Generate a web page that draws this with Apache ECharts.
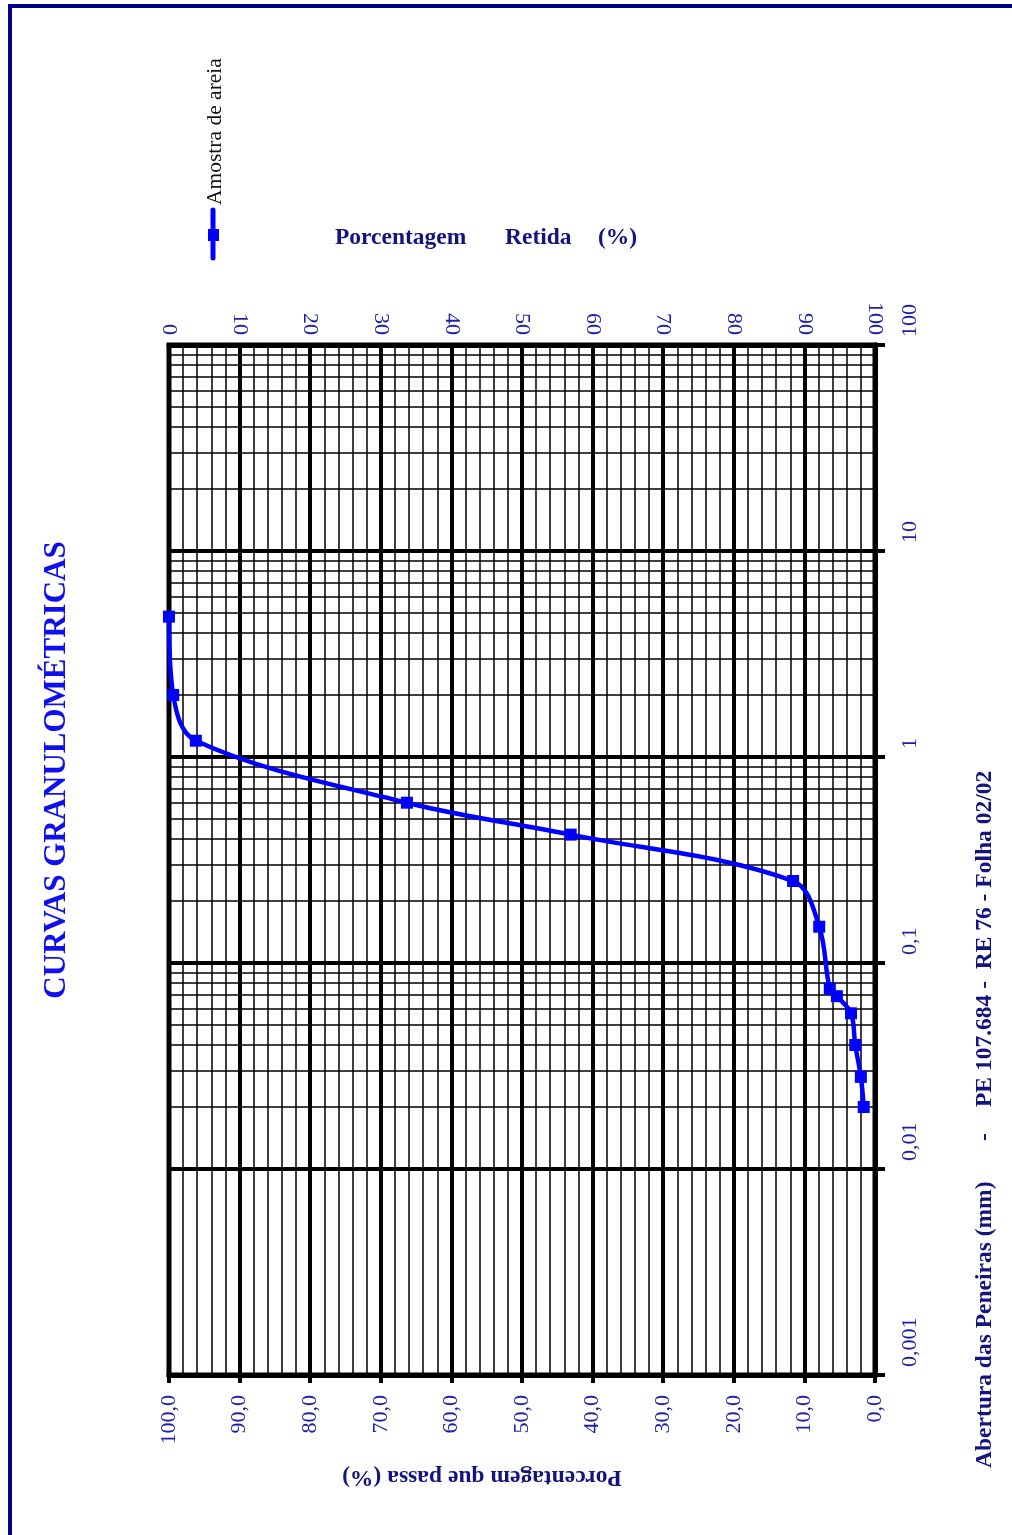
<!DOCTYPE html>
<html>
<head>
<meta charset="utf-8">
<script src="https://cdn.jsdelivr.net/npm/echarts@6/dist/echarts.min.js"></script>
<style>
  html, body { margin: 0; padding: 0; background: #fff; }
  #chart { width: 1012px; height: 1535px; }
</style>
</head>
<body>
<div id="chart"></div>
<script>
// Sieve analysis – sand sample
var sieveOpening = [4.8, 2.0, 1.2, 0.6, 0.42, 0.25, 0.15, 0.075, 0.069, 0.057, 0.040, 0.028, 0.020]; // mm
var percentPassing = [100.0, 99.4, 96.2, 66.3, 43.1, 11.6, 7.9, 6.4, 5.4, 3.4, 2.8, 2.0, 1.6];    // %
var seriesName = 'Amostra de areia';

var percentTicks = [0, 10, 20, 30, 40, 50, 60, 70, 80, 90, 100];
var openingTicks = [0.001, 0.01, 0.1, 1, 10, 100];

var SERIF = 'Liberation Serif';
var TICK_COLOR = '#1f1fa6';
var NAME_COLOR = '#14147e';
var LINE_BLUE = '#0000ff';
var NAME_FONT = 'bold 23.5px "Liberation Serif"';

function comma(s) { return String(s).replace('.', ','); }

// intermediate log-cycle lines (2..9 of each decade)
var logMinor = [];
for (var d = 0; d < openingTicks.length - 1; d++) {
  for (var m = 2; m <= 9; m++) {
    logMinor.push({ yAxis: Number((openingTicks[d] * m).toPrecision(4)) });
  }
}

var points = sieveOpening.map(function (mm, i) { return [percentPassing[i], mm]; });

var chart = echarts.init(document.getElementById('chart'), null, { renderer: 'canvas' });

chart.setOption({
  animation: false,
  backgroundColor: '#ffffff',
  grid: {
    left: 169, right: 137, top: 345, bottom: 160,
    show: true, borderColor: '#000', borderWidth: 5, backgroundColor: 'transparent'
  },
  xAxis: [
    {
      // percentage passing (bottom, decreasing to the right)
      type: 'value', position: 'bottom', inverse: true,
      min: percentTicks[0], max: percentTicks[percentTicks.length - 1], interval: 10,
      axisLine: { show: true, lineStyle: { color: '#000', width: 5 } },
      axisTick: { show: true, inside: false, length: 8, lineStyle: { color: '#000', width: 4 } },
      minorTick: { show: false, splitNumber: 5 },
      splitLine: { show: true, lineStyle: { color: '#000', width: 4 } },
      minorSplitLine: { show: true, lineStyle: { color: '#000', width: 1.5 } },
      axisLabel: {
        rotate: 90, margin: 20, align: 'right', verticalAlign: 'middle',
        color: TICK_COLOR, fontFamily: SERIF, fontSize: 22,
        formatter: function (v) { return comma(v.toFixed(1)); }
      }
    },
    {
      // percentage retained (top)
      type: 'value', position: 'top',
      min: percentTicks[0], max: percentTicks[percentTicks.length - 1], interval: 10,
      axisLine: { show: true, lineStyle: { color: '#000', width: 5 } },
      axisTick: { show: false },
      splitLine: { show: false },
      axisLabel: {
        rotate: 90, margin: 10, align: 'right', verticalAlign: 'middle',
        color: TICK_COLOR, fontFamily: SERIF, fontSize: 22,
        formatter: function (v) { return String(v); }
      }
    }
  ],
  yAxis: [
    {
      type: 'log', logBase: 10, position: 'right',
      min: openingTicks[0], max: openingTicks[openingTicks.length - 1],
      axisLine: { show: true, lineStyle: { color: '#000', width: 5 } },
      axisTick: { show: true, inside: false, length: 10, lineStyle: { color: '#000', width: 4 } },
      splitLine: { show: true, lineStyle: { color: '#000', width: 4 } },
      minorSplitLine: { show: false },
      axisLabel: {
        rotate: 90, margin: 35, align: 'left', verticalAlign: 'middle',
        padding: [0, 0, 0, 8],
        color: TICK_COLOR, fontFamily: SERIF, fontSize: 22,
        formatter: function (v) { return comma(Number(v.toPrecision(6))); }
      }
    }
  ],
  series: [
    {
      name: 'logcycles', type: 'line', data: [], z: 1,
      silent: true, xAxisIndex: 0, yAxisIndex: 0,
      markLine: {
        z: 1, silent: true, symbol: 'none', animation: false,
        label: { show: false },
        emphasis: { disabled: true },
        lineStyle: { color: '#000', width: 1.5, type: 'solid' },
        data: logMinor
      }
    },
    {
      name: seriesName, type: 'line', z: 4,
      xAxisIndex: 0, yAxisIndex: 0,
      data: points,
      smooth: 0.35,
      symbol: 'rect', symbolSize: 12,
      lineStyle: { color: LINE_BLUE, width: 4.5 },
      itemStyle: { color: LINE_BLUE },
      emphasis: { disabled: true }
    }
  ],
  graphic: [
    // page frame
    {
      type: 'polyline', silent: true, z: 10,
      shape: { points: [[10, 1540], [10, 6], [1020, 6]] },
      style: { stroke: '#00008b', lineWidth: 4, fill: null }
    },
    // chart title
    {
      type: 'text', x: 57, y: 770, rotation: Math.PI / 2,
      style: {
        text: 'CURVAS GRANULOMÉTRICAS', align: 'center', verticalAlign: 'middle',
        font: 'bold 31px "Liberation Serif"', fill: '#1010ee'
      }
    },
    // legend
    {
      type: 'line', shape: { x1: 213, y1: 210, x2: 213, y2: 258 },
      style: { stroke: LINE_BLUE, lineWidth: 5, lineCap: 'round' }
    },
    {
      type: 'rect', shape: { x: 208, y: 229, width: 11, height: 12 },
      style: { fill: LINE_BLUE }
    },
    {
      type: 'text', x: 215, y: 205, rotation: Math.PI / 2,
      style: {
        text: seriesName, align: 'left', verticalAlign: 'middle',
        font: '21.5px "Liberation Serif"', fill: '#111'
      }
    },
    // top axis title
    {
      type: 'text', x: 335, y: 238,
      style: { text: 'Porcentagem', align: 'left', verticalAlign: 'middle', font: NAME_FONT, fill: NAME_COLOR }
    },
    {
      type: 'text', x: 505, y: 238,
      style: { text: 'Retida', align: 'left', verticalAlign: 'middle', font: NAME_FONT, fill: NAME_COLOR }
    },
    {
      type: 'text', x: 598, y: 238,
      style: { text: '(%)', align: 'left', verticalAlign: 'middle', font: NAME_FONT, fill: NAME_COLOR }
    },
    // bottom axis title (upside down)
    {
      type: 'text', x: 482, y: 1477, rotation: Math.PI,
      style: { text: 'Porcentagem que passa (%)', align: 'center', verticalAlign: 'middle', font: NAME_FONT, fill: NAME_COLOR }
    },
    // right axis title and sheet reference
    {
      type: 'text', x: 985, y: 1468, rotation: Math.PI / 2,
      style: { text: 'Abertura das Peneiras (mm)', align: 'left', verticalAlign: 'middle', font: NAME_FONT, fill: NAME_COLOR }
    },
    {
      type: 'text', x: 985, y: 1137, rotation: Math.PI / 2,
      style: { text: '-', align: 'center', verticalAlign: 'middle', font: NAME_FONT, fill: NAME_COLOR }
    },
    {
      type: 'text', x: 985, y: 1107, rotation: Math.PI / 2,
      style: { text: 'PE 107.684 -  RE 76 - Folha 02/02', align: 'left', verticalAlign: 'middle', font: NAME_FONT, fill: NAME_COLOR }
    }
  ]
});
</script>
</body>
</html>
